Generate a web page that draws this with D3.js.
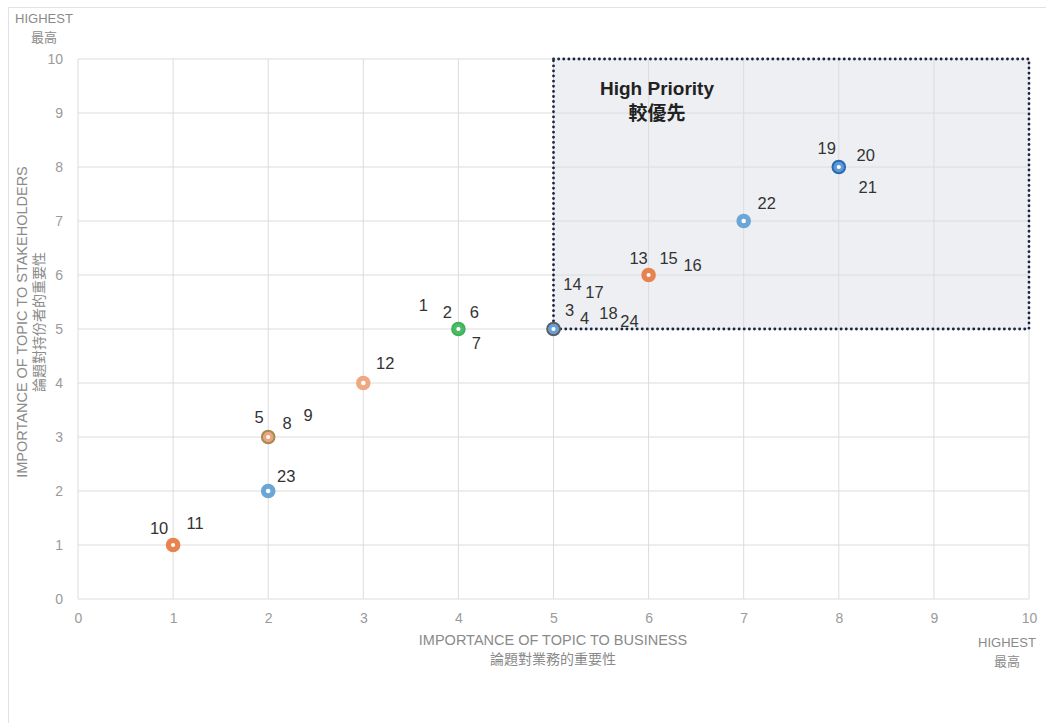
<!DOCTYPE html>
<html>
<head>
<meta charset="utf-8">
<script src="https://d3js.org/d3.v7.min.js"></script>
<style>
 body { margin: 0; background: #fff; }
 text { font-family: "Liberation Sans", Arial, "Noto Sans CJK TC", sans-serif; }
</style>
</head>
<body>
<svg id="chart" width="1046" height="723"></svg>
<script>
 // topics: business importance (x) vs stakeholder importance (y)
 var topics   = ["1","2","6","7","3","4","14","17","18","24","5","8","9","10","11","12","13","15","16","19","20","21","22","23"];
 var business = [ 4,  4,  4,  4,  5,  5,  5,   5,   5,   5,   2,  2,  2,  1,   1,   3,   6,   6,   6,   8,   8,   8,   7,   2 ];
 var stakeh   = [ 5,  5,  5,  5,  5,  5,  5,   5,   5,   5,   3,  3,  3,  1,   1,   4,   6,   6,   6,   8,   8,   8,   7,   2 ];
 var colors   = ["#3cb25b","#4fbb6a","#4fbb6a","#4fbb6a","#5b6068","#6a9fd4","#6a9fd4","#6a9fd4","#6a9fd4","#6a9fd4",
                 "#a58c55","#f0a47e","#f0a47e","#e8834f","#e8834f","#f0a882","#e8834f","#e8834f","#e8834f",
                 "#2a6cb3","#5f9ad4","#5f9ad4","#6aa6d6","#6aa6d6"];
 // label offsets from the marker (px)
 var labelDx  = [-35,-11, 16, 18, 16, 31, 19, 41, 55, 76, -9, 19, 40,-14, 22, 22,-10, 20, 44,-12, 27, 29, 23, 18];
 var labelDy  = [-24,-17,-17, 14,-19,-11,-45,-37,-16, -8,-20,-14,-22,-17,-22,-20,-17,-17,-10,-19,-12, 20,-18,-15];
 var ticks = [0,1,2,3,4,5,6,7,8,9,10];

 var svg = d3.select("#chart");
 var x = d3.scaleLinear().domain([0,10]).range([78,1029]);
 var y = d3.scaleLinear().domain([0,10]).range([599,59]);

 // outer frame
 svg.append("rect").attr("x",8.5).attr("y",7.5).attr("width",1100).attr("height",800)
    .attr("fill","none").attr("stroke","#e4e0ea");

 // high priority zone
 svg.append("rect")
    .attr("x",x(5)).attr("y",y(10)).attr("width",x(10)-x(5)).attr("height",y(5)-y(10))
    .attr("fill","#eeeff3");

 // grid
 var g = svg.append("g");
 ticks.forEach(function(t) {
     g.append("line").attr("x1",x(t)).attr("x2",x(t)).attr("y1",y(0)).attr("y2",y(10))
      .attr("stroke","#dcdcdc").attr("stroke-width",1);
     g.append("line").attr("x1",x(0)).attr("x2",x(10)).attr("y1",y(t)).attr("y2",y(t))
      .attr("stroke","#dcdcdc").attr("stroke-width",1);
 });

 // axes (labels only)
 var xAxis = svg.append("g").attr("transform","translate(0," + (y(0) + 11) + ")")
    .call(d3.axisBottom(x).tickValues(ticks).tickSize(0).tickFormat(d3.format("d")));
 var yAxis = svg.append("g").attr("transform","translate(" + (x(0) - 12) + ",0)")
    .call(d3.axisLeft(y).tickValues(ticks).tickSize(0).tickFormat(d3.format("d")));
 [xAxis, yAxis].forEach(function(a) {
     a.select(".domain").remove();
     a.selectAll("text").attr("fill","#9a9a9a").attr("font-size","14px")
      .attr("font-family","'Liberation Sans', Arial, sans-serif");
 });
 yAxis.selectAll("text").attr("dy","0.35em");

 // dotted border of the zone
 svg.append("rect")
    .attr("x",x(5)).attr("y",y(10)).attr("width",x(10)-x(5)).attr("height",y(5)-y(10))
    .attr("fill","none").attr("stroke","#1c2444").attr("stroke-width",2.8)
    .attr("stroke-dasharray","0.1 5").attr("stroke-linecap","round");

 svg.append("text").attr("x",657).attr("y",95).attr("text-anchor","middle")
    .attr("font-size","19px").attr("font-weight","bold").attr("fill","#222").text("High Priority");
 svg.append("text").attr("x",657).attr("y",120).attr("text-anchor","middle")
    .attr("font-size","19px").attr("font-weight","bold").attr("fill","#222")
    .attr("font-family","'Noto Sans CJK TC', sans-serif").text("較優先");

 // axis titles
 function grayText(px, py, s, fs) {
     return svg.append("text").attr("x",px).attr("y",py).attr("text-anchor","middle")
        .attr("font-size",(fs || 13) + "px").attr("fill","#8a8a8a").text(s);
 }
 grayText(553, 645, "IMPORTANCE OF TOPIC TO BUSINESS", 14.5);
 grayText(553, 664, "論題對業務的重要性", 14).attr("font-family","'Noto Sans CJK TC', sans-serif");
 grayText(1007, 647, "HIGHEST");
 grayText(1007, 666, "最高").attr("font-family","'Noto Sans CJK TC', sans-serif");
 grayText(44, 23, "HIGHEST");
 grayText(44, 42, "最高").attr("font-family","'Noto Sans CJK TC', sans-serif");

 var yt = svg.append("g").attr("transform","translate(27,322) rotate(-90)");
 yt.append("text").attr("text-anchor","middle").attr("font-size","14.5px").attr("fill","#8a8a8a")
   .text("IMPORTANCE OF TOPIC TO STAKEHOLDERS");
 yt.append("text").attr("y",17).attr("text-anchor","middle").attr("font-size","14px").attr("fill","#8a8a8a")
   .attr("font-family","'Noto Sans CJK TC', sans-serif").text("論題對持份者的重要性");

 // markers: first topic at a spot is the outer ring, later ones draw an inner ring
 var seen = {};
 var pts = topics.map(function(t, i) {
     var key = business[i] + "," + stakeh[i];
     var k = seen[key] || 0;
     seen[key] = k + 1;
     return { name: t, bx: business[i], sy: stakeh[i], color: colors[i], k: k, dx: labelDx[i], dy: labelDy[i] };
 });
 svg.append("g").selectAll("circle")
    .data(pts)
    .enter()
    .append("circle")
    .attr("cx", function(d) { return x(d.bx); })
    .attr("cy", function(d) { return y(d.sy); })
    .attr("r", function(d) { return d.k == 0 ? 4.8 : 3.6; })
    .attr("fill", "#fff")
    .attr("stroke", function(d) { return d.color; })
    .attr("stroke-width", function(d) { return d.k == 0 ? 5 : 3; });

 svg.append("g").selectAll("text")
    .data(pts)
    .enter()
    .append("text")
    .attr("x", function(d) { return x(d.bx) + d.dx; })
    .attr("y", function(d) { return y(d.sy) + d.dy; })
    .attr("text-anchor","middle")
    .attr("dy","0.36em")
    .attr("font-size","16.5px")
    .attr("fill","#333")
    .text(function(d) { return d.name; });
</script>
</body>
</html>
